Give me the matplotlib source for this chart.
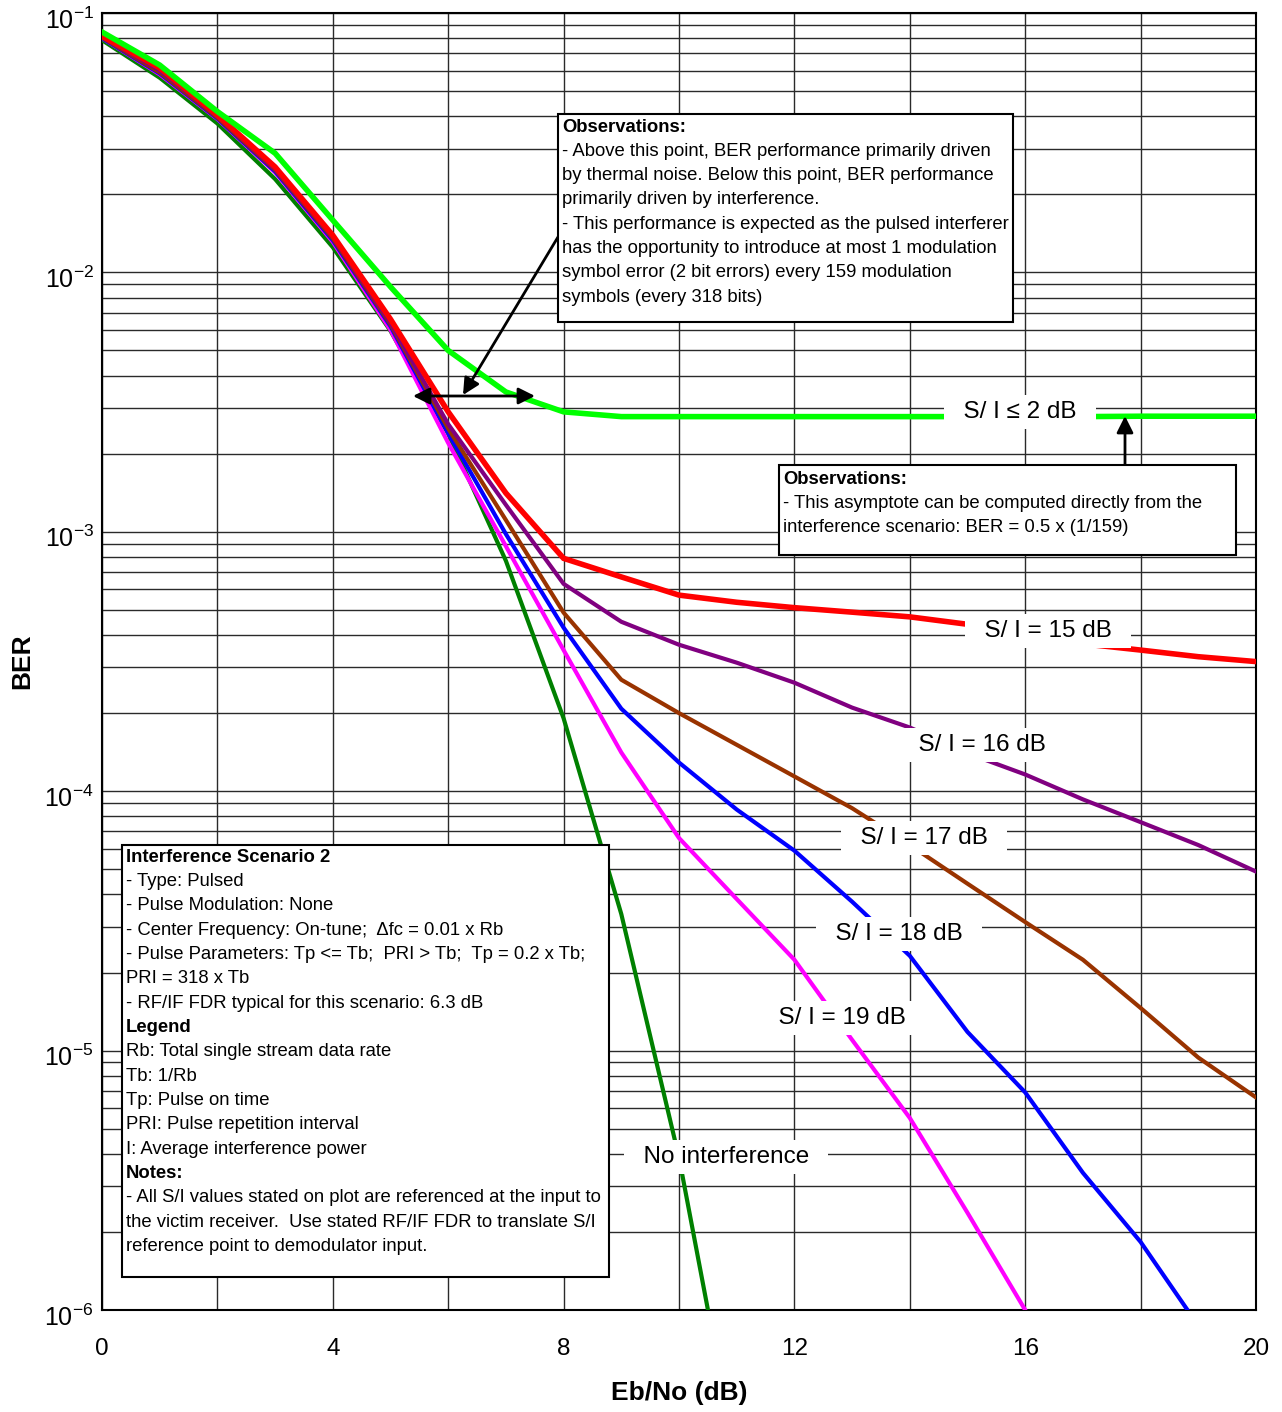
import numpy as np
import matplotlib
matplotlib.use("Agg")
import matplotlib.pyplot as plt
import matplotlib.transforms as mtransforms
from matplotlib.patches import Rectangle, FancyArrowPatch

plt.rcParams['font.family'] = ['Liberation Sans', 'DejaVu Sans']
plt.rcParams['mathtext.fontset'] = 'custom'
plt.rcParams['mathtext.rm'] = 'Liberation Sans'
plt.rcParams['mathtext.it'] = 'Liberation Sans:italic'
plt.rcParams['mathtext.bf'] = 'Liberation Sans:bold'

# Eb/No (dB) sample points
ebno = list(range(21))

# BER values
ber_si2 = [0.0845, 0.063, 0.0417, 0.0288, 0.0159, 0.0088, 0.0050, 3.46e-3, 2.9e-3,
           2.78e-3, 2.78e-3, 2.78e-3, 2.78e-3, 2.78e-3, 2.78e-3, 2.78e-3, 2.78e-3,
           2.78e-3, 2.79e-3, 2.79e-3, 2.79e-3]
ber_si15 = [0.0815, 0.0614, 0.0404, 0.0255, 0.0139, 0.0066, 0.0029, 1.41e-3, 7.9e-4,
            6.7e-4, 5.7e-4, 5.35e-4, 5.1e-4, 4.9e-4, 4.7e-4, 4.4e-4, 3.95e-4, 3.7e-4,
            3.5e-4, 3.3e-4, 3.16e-4]
ber_si16 = [0.081, 0.060, 0.040, 0.025, 0.0137, 0.0064, 0.0026, 1.27e-3, 6.3e-4,
            4.5e-4, 3.67e-4, 3.13e-4, 2.62e-4, 2.1e-4, 1.76e-4, 1.4e-4, 1.16e-4,
            9.3e-5, 7.6e-5, 6.2e-5, 4.9e-5]
ber_si17 = [0.0805, 0.059, 0.0395, 0.0248, 0.0135, 0.0063, 0.0025, 1.11e-3, 4.88e-4,
            2.69e-4, 2.0e-4, 1.51e-4, 1.14e-4, 8.6e-5, 6.2e-5, 4.4e-5, 3.13e-5,
            2.24e-5, 1.46e-5, 9.4e-6, 6.6e-6]
ber_si18 = [0.080, 0.0585, 0.0392, 0.0245, 0.0133, 0.0062, 0.0024, 9.8e-4, 4.27e-4,
            2.08e-4, 1.29e-4, 8.5e-5, 5.9e-5, 3.75e-5, 2.32e-5, 1.18e-5, 6.9e-6,
            3.38e-6, 1.83e-6, 8.7e-7]
ber_si19 = [0.080, 0.058, 0.039, 0.0243, 0.0131, 0.0060, 0.0022, 8.8e-4, 3.5e-4,
            1.41e-4, 6.6e-5, 3.84e-5, 2.24e-5, 1.1e-5, 5.5e-6, 2.37e-6, 1.0e-6, 4.0e-7]
ber_none = [0.0786, 0.0563, 0.0375, 0.0229, 0.0125, 0.00595, 0.00239, 7.73e-4,
            1.91e-4, 3.36e-5, 3.87e-6, 2.61e-7]

curves = [
    (ber_si2, '#00FF00', 4.0),
    (ber_si15, '#FF0000', 4.0),
    (ber_si16, '#800080', 3.0),
    (ber_si17, '#993300', 3.0),
    (ber_si18, '#0000FF', 3.0),
    (ber_si19, '#FF00FF', 3.0),
    (ber_none, '#008000', 3.0),
]

W, H = 1282, 1412
fig = plt.figure(figsize=(W / 100, H / 100), dpi=100)


def fx(px):
    return px / W


def fy(py):
    return 1 - py / H


ax = fig.add_axes([fx(102), fy(1310), fx(1256) - fx(102), fy(13) - fy(1310)])

# draw back to front: no interference last (on top) like the original
for ber, col, lw in curves[::-1]:
    ax.plot(ebno[:len(ber)], ber, color=col, lw=lw, solid_joinstyle='miter', zorder=3)

ax.set_yscale('log')
ax.set_xlim(0, 20)
ax.set_ylim(1e-6, 1e-1)

ax.set_xticks([0, 4, 8, 12, 16, 20])
ax.set_xticks([2, 6, 10, 14, 18], minor=True)
ax.set_xticklabels(['0', '4', '8', '12', '16', '20'], fontsize=17.5)
dec = [1e-6, 1e-5, 1e-4, 1e-3, 1e-2, 1e-1]
ax.set_yticks(dec)
ax.set_yticklabels([r'$10^{-%d}$' % k for k in [6, 5, 4, 3, 2, 1]], fontsize=18)
minors = [m * d for d in dec[:-1] for m in range(2, 10)]
ax.set_yticks(minors, minor=True)
ax.set_yticklabels([], minor=True)
ax.tick_params(which='both', length=0)
ax.tick_params(axis='x', pad=20)
ax.tick_params(axis='y', pad=6)
# nudge the y tick labels down a little, like the original
shift = mtransforms.ScaledTranslation(0, -5 / 100, fig.dpi_scale_trans)
for lab in ax.get_yticklabels():
    lab.set_transform(lab.get_transform() + shift)
ax.grid(True, which='both', color='#2a2a2a', lw=1.0, zorder=1)
ax.set_axisbelow(True)
for s in ax.spines.values():
    s.set_linewidth(1.5)
    s.set_color('black')

fig.text(fx(679), fy(1393), 'Eb/No (dB)', fontsize=19, fontweight='bold',
         ha='center', va='center')
fig.text(fx(22), fy(661), 'BER', fontsize=19, fontweight='bold', rotation=90,
         ha='center', va='center')

# curve labels with white backgrounds
lab_kw = dict(fontsize=17.5, ha='center', va='center', zorder=6,
              bbox=dict(facecolor='white', edgecolor='none', pad=4))
curve_labels = [
    ('  S/ I \u2264 2 dB  ', 1020, 412),
    ('  S/ I = 15 dB  ', 1048, 631),
    ('  S/ I = 16 dB  ', 982, 745),
    ('  S/ I = 17 dB  ', 924, 838),
    ('  S/ I = 18 dB  ', 899, 934),
    ('  S/ I = 19 dB  ', 842, 1018),
    ('  No interference  ', 726, 1157),
]
for txt, px, py in curve_labels:
    fig.text(fx(px), fy(py), txt, **lab_kw)

# arrows (figure pixel positions)
arr = dict(arrowstyle='-|>', color='black', lw=2, mutation_scale=25,
           shrinkA=0, shrinkB=0)
fig.add_artist(FancyArrowPatch(
    (fx(413), fy(396)), (fx(535), fy(396)), transform=fig.transFigure,
    arrowstyle='<|-|>', color='black', lw=2, mutation_scale=25,
    shrinkA=0, shrinkB=0, zorder=4))
fig.add_artist(FancyArrowPatch(
    (fx(558), fy(237)), (fx(463), fy(395)), transform=fig.transFigure,
    zorder=4, **arr))
fig.add_artist(FancyArrowPatch(
    (fx(1125), fy(465)), (fx(1125), fy(416)), transform=fig.transFigure,
    zorder=4, **arr))


def note_box(x0, y0, x1, y1, lines, tx, ty0, dy):
    fig.add_artist(Rectangle((fx(x0), fy(y1)), fx(x1) - fx(x0), fy(y0) - fy(y1),
                             transform=fig.transFigure, facecolor='white',
                             edgecolor='black', lw=1.5, zorder=5))
    for i, (txt, bold) in enumerate(lines):
        fig.text(fx(tx), fy(ty0 + i * dy), txt, fontsize=13.3,
                 fontweight='bold' if bold else 'normal',
                 ha='left', va='center', zorder=6)


note_box(558, 114, 1013, 322, [
    ('Observations:', True),
    ('- Above this point, BER performance primarily driven', False),
    ('by thermal noise. Below this point, BER performance', False),
    ('primarily driven by interference.', False),
    ('- This performance is expected as the pulsed interferer', False),
    ('has the opportunity to introduce at most 1 modulation', False),
    ('symbol error (2 bit errors) every 159 modulation', False),
    ('symbols (every 318 bits)', False),
], 562, 127, 24.3)

note_box(779, 465, 1236, 555, [
    ('Observations:', True),
    ('- This asymptote can be computed directly from the', False),
    ('interference scenario: BER = 0.5 x (1/159)', False),
], 783, 479, 24.3)

note_box(122, 845, 609, 1277, [
    ('Interference Scenario 2', True),
    ('- Type: Pulsed', False),
    ('- Pulse Modulation: None', False),
    ('- Center Frequency: On-tune;  \u0394fc = 0.01 x Rb', False),
    ('- Pulse Parameters: Tp <= Tb;  PRI > Tb;  Tp = 0.2 x Tb;', False),
    ('PRI = 318 x Tb', False),
    ('- RF/IF FDR typical for this scenario: 6.3 dB', False),
    ('Legend', True),
    ('Rb: Total single stream data rate', False),
    ('Tb: 1/Rb', False),
    ('Tp: Pulse on time', False),
    ('PRI: Pulse repetition interval', False),
    ('I: Average interference power', False),
    ('Notes:', True),
    ('- All S/I values stated on plot are referenced at the input to', False),
    ('the victim receiver.  Use stated RF/IF FDR to translate S/I', False),
    ('reference point to demodulator input.', False),
], 126, 857, 24.35)

fig.savefig('out.png', dpi=100)
